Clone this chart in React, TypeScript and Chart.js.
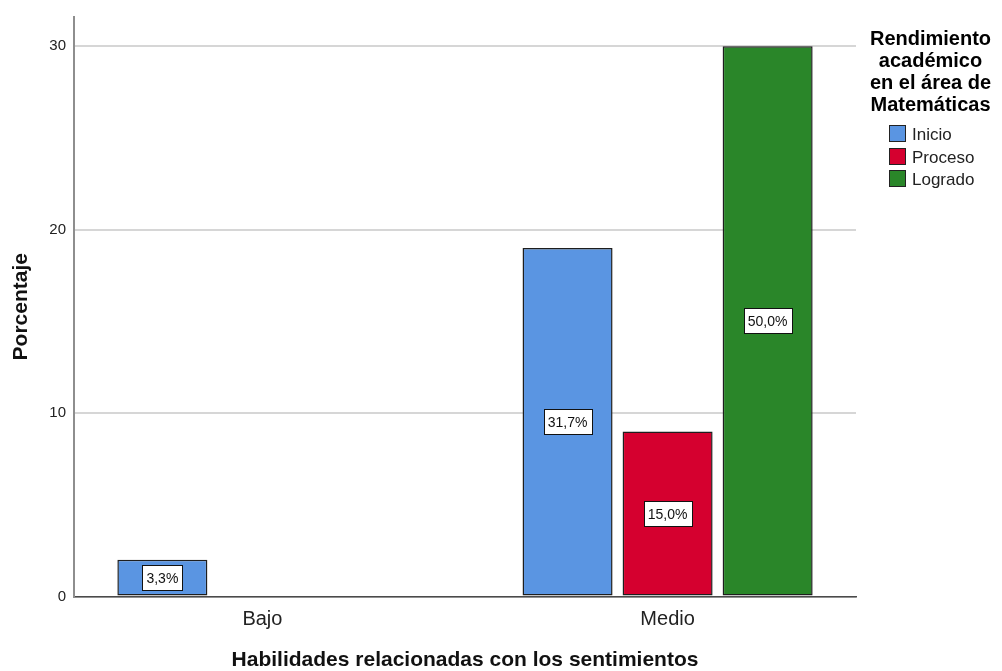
import React, { useEffect, useRef } from 'react';
import { Chart, registerables } from 'chart.js';

Chart.register(...registerables);

// Categories on the horizontal axis and the three performance groups
const categories = ['Bajo', 'Medio'];
const seriesNames = ['Inicio', 'Proceso', 'Logrado'];
const inicio = [2, 19];
const proceso = [0, 9];
const logrado = [0, 30];
const seriesColors = ['#5A95E2', '#D5002F', '#2A8629'];
const yTicks = [0, 10, 20, 30];
const legendTitle = ['Rendimiento', 'académico', 'en el área de', 'Matemáticas'];
const xTitle = 'Habilidades relacionadas con los sentimientos';
const yTitle = 'Porcentaje';

const seriesValues = [inicio, proceso, logrado];
const total = seriesValues.flat().reduce((a, b) => a + b, 0);

const pctLabel = (v: number) => ((v / total) * 100).toFixed(1).replace('.', ',') + '%';

const FONT = "'Liberation Sans', Arial, sans-serif";

// Boxed percentage labels in the middle of each bar
const barLabels = {
  id: 'barLabels',
  afterDatasetsDraw(chart: any) {
    const ctx = chart.ctx;
    ctx.save();
    ctx.font = `14px ${FONT}`;
    ctx.textAlign = 'center';
    ctx.textBaseline = 'middle';
    chart.data.datasets.forEach((ds: any, di: number) => {
      const meta = chart.getDatasetMeta(di);
      meta.data.forEach((el: any, i: number) => {
        const raw = ds.data[i];
        if (!raw || raw.y == null) return;
        const text = pctLabel(raw.y);
        const cx = el.x;
        const cy = (el.y + el.base) / 2;
        const w = Math.round(ctx.measureText(text).width + 8);
        const h = 25;
        const x0 = Math.round(cx - w / 2) + 0.5;
        const y0 = Math.round(cy - h / 2) + 0.5;
        ctx.fillStyle = '#ffffff';
        ctx.fillRect(x0, y0, w, h);
        ctx.strokeStyle = '#111111';
        ctx.lineWidth = 1;
        ctx.strokeRect(x0, y0, w, h);
        ctx.fillStyle = '#111111';
        ctx.fillText(text, cx, cy + 1.5);
      });
    });
    ctx.restore();
  },
};

// Legend on the right with a multi-line title
const sideLegend = {
  id: 'sideLegend',
  afterDraw(chart: any) {
    const ctx = chart.ctx;
    ctx.save();
    ctx.fillStyle = '#000000';
    ctx.font = `bold 20px ${FONT}`;
    ctx.textAlign = 'center';
    ctx.textBaseline = 'alphabetic';
    legendTitle.forEach((line, i) => {
      ctx.fillText(line, 930.5, 45 + i * 22);
    });
    ctx.font = `17px ${FONT}`;
    ctx.textAlign = 'left';
    ctx.textBaseline = 'middle';
    chart.data.datasets.forEach((ds: any, i: number) => {
      const y = 125 + i * 22.5;
      ctx.fillStyle = ds.backgroundColor;
      ctx.fillRect(889.5, Math.round(y) + 0.5, 16, 16);
      ctx.strokeStyle = '#222222';
      ctx.lineWidth = 1;
      ctx.strokeRect(889.5, Math.round(y) + 0.5, 16, 16);
      ctx.fillStyle = '#222222';
      ctx.fillText(ds.label, 912, Math.round(y) + 10);
    });
    ctx.restore();
  },
};

export default function App() {
  const canvasRef = useRef<HTMLCanvasElement | null>(null);

  useEffect(() => {
    document.body.style.margin = '0';
    const canvas = canvasRef.current;
    if (!canvas) return;

    const datasets = seriesNames.map((name, s) => ({
      label: name,
      data: seriesValues[s].map((v, i) => ({ x: i, y: v > 0 ? v : null })),
      backgroundColor: seriesColors[s],
      borderColor: '#1e1e1e',
      borderWidth: 1.5,
      borderSkipped: false,
      categoryPercentage: 0.7407,
      barPercentage: 0.9,
    }));

    const chart = new Chart(canvas, {
      type: 'bar',
      data: { datasets },
      plugins: [barLabels, sideLegend],
      options: {
        animation: false,
        responsive: false,
        maintainAspectRatio: false,
        layout: { padding: { top: 15, right: 146, left: 0, bottom: 0 } },
        plugins: {
          legend: { display: false },
          tooltip: { enabled: false },
        },
        scales: {
          x: {
            type: 'linear',
            offset: false,
            min: -0.465,
            max: 1.465,
            afterBuildTicks: (scale: any) => {
              scale.ticks = categories.map((_, i) => ({ value: i }));
            },
            afterFit: (scale: any) => {
              scale.height = 74.5;
            },
            grid: { display: false, drawTicks: false },
            border: { display: true, color: '#4a4a4a', width: 1.5 },
            ticks: {
              padding: 11,
              color: '#222222',
              font: { family: FONT, size: 20 },
              maxRotation: 0,
              callback: (value: any) => categories[Number(value)] ?? '',
            },
            title: {
              display: true,
              text: xTitle,
              color: '#111111',
              font: { family: FONT, size: 21, weight: 'bold', lineHeight: 1 },
              padding: 0,
            },
          },
          y: {
            type: 'linear',
            min: 0,
            max: 31.6,
            afterBuildTicks: (scale: any) => {
              scale.ticks = yTicks.map((v) => ({ value: v }));
            },
            afterFit: (scale: any) => {
              scale.width = 74;
            },
            grid: { color: '#d6d6d6', lineWidth: 2, drawTicks: false },
            border: { display: true, color: '#8e8e8e', width: 2 },
            ticks: {
              padding: 8,
              color: '#222222',
              font: { family: FONT, size: 15 },
              callback: (value: any) => String(value),
            },
            title: {
              display: true,
              text: yTitle,
              color: '#111111',
              font: { family: FONT, size: 21, weight: 'bold', lineHeight: 1 },
              padding: { top: 11, bottom: 0 },
            },
          },
        },
      } as any,
    });

    return () => chart.destroy();
  }, []);

  return (
    <div style={{ position: 'absolute', left: 0, top: 0, width: 1002, height: 671, background: '#ffffff' }}>
      <canvas ref={canvasRef} width={1002} height={671} style={{ display: 'block' }} />
    </div>
  );
}
